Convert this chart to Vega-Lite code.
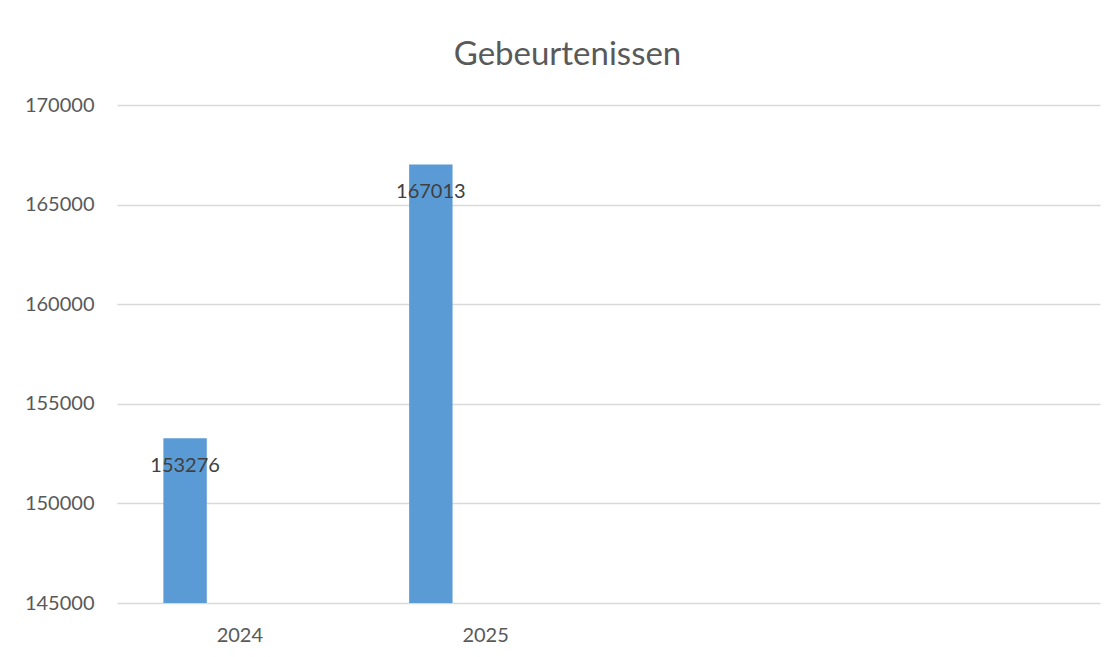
{
  "$schema": "https://vega.github.io/schema/vega-lite/v6.json",
  "width": 983,
  "height": 498,
  "autosize": {"type": "none"},
  "padding": {"left": 117, "top": 105, "right": 17, "bottom": 54},
  "background": "white",
  "config": {
    "font": "Lato",
    "view": {"stroke": null},
    "axis": {"labelFont": "Lato", "labelFontSize": 20, "labelColor": "#595959", "title": null}
  },
  "title": {
    "text": "Gebeurtenissen",
    "font": "Lato",
    "fontSize": 33,
    "fontWeight": "normal",
    "color": "#595959",
    "anchor": "middle",
    "baseline": "alphabetic",
    "offset": -3,
    "dx": -41
  },
  "data": {
    "values": [
      {"jaar": "2024", "reeks": "s1", "waarde": 153276},
      {"jaar": "2025", "reeks": "s1", "waarde": 167013}
    ]
  },
  "encoding": {
    "x": {
      "field": "jaar",
      "type": "nominal",
      "scale": {"domain": ["2024", "2025", "c3", "c4"], "paddingInner": 0, "paddingOuter": 0},
      "axis": {"values": ["2024", "2025"], "labelAngle": 0, "domain": false, "ticks": false, "grid": false, "labelPadding": 22, "labelBaseline": "top"}
    },
    "xOffset": {
      "field": "reeks",
      "type": "nominal",
      "scale": {"domain": ["s1", "s2", "s3", "s4"], "paddingInner": 0, "paddingOuter": 0.831, "align": 0.643}
    }
  },
  "layer": [
    {
      "mark": {"type": "bar", "color": "#5b9bd5"},
      "encoding": {
        "y": {
          "field": "waarde",
          "type": "quantitative",
          "scale": {"domain": [145000, 170000], "zero": false, "nice": false},
          "axis": {"values": [145000, 150000, 155000, 160000, 165000, 170000], "format": "d", "domain": false, "ticks": false, "grid": true, "gridColor": "#d9d9d9", "gridWidth": 1.5, "labelPadding": 23}
        },
        "y2": {"datum": 145000}
      }
    },
    {
      "mark": {"type": "text", "font": "Lato", "fontSize": 20, "color": "#404040", "baseline": "alphabetic", "align": "center", "dy": 33.5},
      "encoding": {
        "y": {"field": "waarde", "type": "quantitative"},
        "text": {"field": "waarde", "type": "quantitative", "format": "d"}
      }
    }
  ]
}
